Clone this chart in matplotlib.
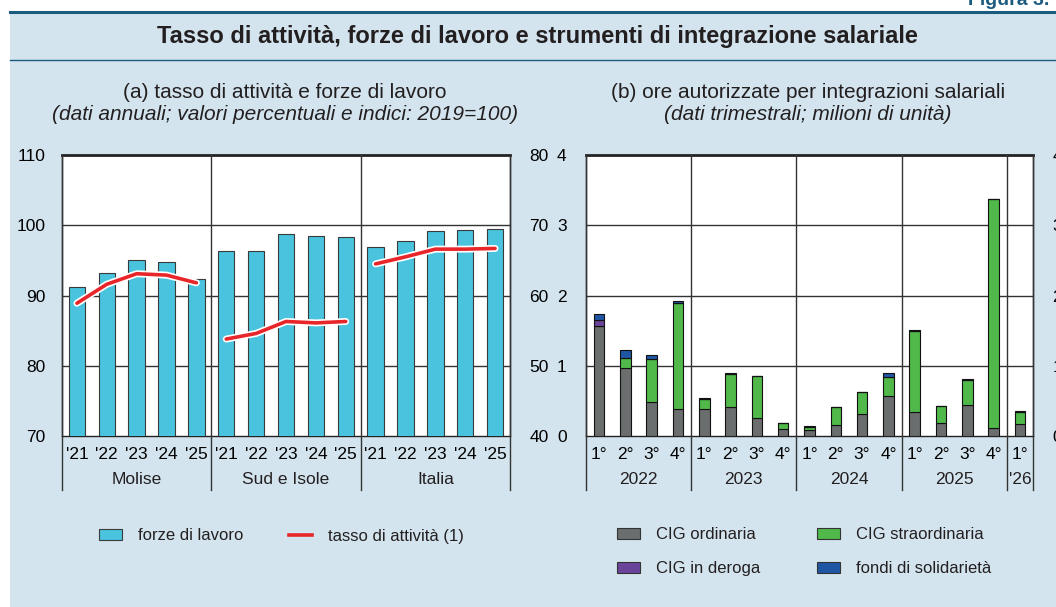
import matplotlib
matplotlib.use("Agg")
import matplotlib.pyplot as plt
import matplotlib.patheffects as pe
from matplotlib.patches import Rectangle, Patch
from matplotlib.lines import Line2D
import numpy as np

plt.rcParams['font.family'] = ['Liberation Sans', 'DejaVu Sans']
plt.rcParams['text.color'] = '#231f20'

# pannello (a): forze di lavoro (indici 2019=100) e tasso di attività (%)
anni = ["'21", "'22", "'23", "'24", "'25"]
aree = ["Molise", "Sud e Isole", "Italia"]
forze_lavoro = {
    "Molise": [91.2, 93.2, 95.0, 94.8, 92.4],
    "Sud e Isole": [96.4, 96.3, 98.7, 98.4, 98.3],
    "Italia": [96.9, 97.8, 99.2, 99.3, 99.4],
}
tasso_attivita = {
    "Molise": [58.9, 61.6, 63.1, 62.9, 61.8],
    "Sud e Isole": [53.8, 54.6, 56.3, 56.1, 56.3],
    "Italia": [64.5, 65.5, 66.6, 66.6, 66.7],
}

# pannello (b): ore autorizzate, milioni
trimestri = ["1°", "2°", "3°", "4°"] * 4 + ["1°"]
anni_b = ["2022", "2023", "2024", "2025", "'26"]
n_trim = [4, 4, 4, 4, 1]
cig_ordinaria = [1.56, 0.97, 0.48, 0.39, 0.39, 0.41, 0.25, 0.095, 0.08, 0.15, 0.31, 0.57, 0.34, 0.19, 0.44, 0.11, 0.17]
cig_straordinaria = [0.0, 0.145, 0.62, 1.50, 0.13, 0.47, 0.61, 0.085, 0.05, 0.26, 0.32, 0.27, 1.155, 0.23, 0.36, 3.26, 0.17]
cig_deroga = [0.09, 0, 0, 0, 0, 0, 0, 0, 0, 0, 0, 0, 0, 0, 0, 0, 0]
fondi_solidarieta = [0.08, 0.105, 0.05, 0.03, 0.02, 0.01, 0, 0, 0.01, 0, 0, 0.05, 0.01, 0.01, 0.01, 0, 0.01]

c_fl = '#49c3de'
c_red = '#e8262a'
c_ord = '#6b6e6e'
c_str = '#50b94a'
c_der = '#6a449b'
c_fon = '#1f56a4'
c_bg = '#d3e4ee'
c_band = '#1b5b7e'

W, H = 1056, 607
fig = plt.figure(figsize=(W / 100, H / 100), dpi=100)
fig.patch.set_facecolor('white')


def fx(px):
    return px / W


def fy(py):
    return 1 - py / H


# sfondo e fascia titolo
fig.patches.append(Rectangle((fx(10), 0), 1, fy(12), transform=fig.transFigure,
                             facecolor=c_bg, edgecolor='none', zorder=-10))
fig.lines.append(Line2D([fx(10), 1], [fy(12), fy(12)], transform=fig.transFigure,
                        color=c_band, lw=2.2, zorder=-5))
fig.lines.append(Line2D([fx(10), 1], [fy(60), fy(60)], transform=fig.transFigure,
                        color=c_band, lw=1.0, zorder=-5))
fig.text(fx(968), fy(5), "Figura 3.", fontsize=14, fontweight='bold', color=c_band,
         ha='left', va='baseline')
fig.text(fx(537), fy(37), "Tasso di attività, forze di lavoro e strumenti di integrazione salariale",
         fontsize=17, fontweight='bold', ha='center', va='center')

fig.text(fx(285), fy(92), "(a) tasso di attività e forze di lavoro", fontsize=15,
         ha='center', va='center')
fig.text(fx(285), fy(115), "(dati annuali; valori percentuali e indici: 2019=100)",
         fontsize=15, style='italic', ha='center', va='center')
fig.text(fx(808), fy(92), "(b) ore autorizzate per integrazioni salariali", fontsize=15,
         ha='center', va='center')
fig.text(fx(808), fy(115), "(dati trimestrali; milioni di unità)",
         fontsize=15, style='italic', ha='center', va='center')


def frame(ax, edges, depth):
    # separatori verticali che scendono sotto l'asse fino alle etichette di gruppo
    for e in edges:
        ax.plot([e, e], [1, -depth], transform=ax.get_xaxis_transform(),
                color='#333333', lw=1.0, clip_on=False, zorder=5)


ax_top, ax_bot = 155, 436
lab_depth = (490 - ax_bot) / (ax_bot - ax_top)
lab_y = -(480 - ax_bot) / (ax_bot - ax_top)

# ---- pannello (a)
axa = fig.add_axes([fx(62), fy(ax_bot), fx(510 - 62), (ax_bot - ax_top) / H])
x = np.arange(15)
vals = sum([forze_lavoro[a] for a in aree], [])
axa.bar(x, vals, width=0.55, color=c_fl, edgecolor='#3a3a3a', linewidth=0.8, zorder=3)
axa.set_xlim(-0.5, 14.5)
axa.set_ylim(70, 110)
axa.set_yticks([70, 80, 90, 100, 110])
for yv in [80, 90, 100]:
    axa.axhline(yv, color='#333333', lw=1.0, zorder=1)
axa.set_xticks(x)
axa.set_xticklabels(anni * 3)
axa.tick_params(length=0, labelsize=12.5, pad=8)
axa.tick_params(axis='y', pad=12)
for s in axa.spines.values():
    s.set_color('#222222')
    s.set_linewidth(1.0)
axa.spines['top'].set_linewidth(2.0)
frame(axa, [-0.5, 4.5, 9.5, 14.5], lab_depth)
for i, a in enumerate(aree):
    axa.text(i * 5 + 2, lab_y, a, transform=axa.get_xaxis_transform(),
             ha='center', va='center', fontsize=12.5)

axa2 = axa.twinx()
axa2.set_ylim(40, 80)
axa2.set_yticks([40, 50, 60, 70, 80])
axa2.tick_params(length=0, labelsize=12.5, pad=14)
for s in axa2.spines.values():
    s.set_visible(False)
for i, a in enumerate(aree):
    axa2.plot(x[i * 5:(i + 1) * 5], tasso_attivita[a], color=c_red, lw=2.6,
              solid_capstyle='round',
              path_effects=[pe.Stroke(linewidth=5.0, foreground='white'), pe.Normal()])

# ---- pannello (b)
axb = fig.add_axes([fx(586), fy(ax_bot), fx(1033 - 586), (ax_bot - ax_top) / H])
xb = np.arange(len(trimestri))
b0 = np.array(cig_ordinaria)
b1 = b0 + np.array(cig_straordinaria)
b2 = b1 + np.array(cig_deroga)
kw = dict(width=0.4, edgecolor='#111111', linewidth=0.8, zorder=3)
axb.bar(xb, cig_ordinaria, color=c_ord, **kw)
axb.bar(xb, cig_straordinaria, bottom=b0, color=c_str, **kw)
axb.bar(xb, cig_deroga, bottom=b1, color=c_der, **kw)
axb.bar(xb, fondi_solidarieta, bottom=b2, color=c_fon, **kw)
axb.set_xlim(-0.5, 16.5)
axb.set_ylim(0, 4)
axb.set_yticks([0, 1, 2, 3, 4])
for yv in [1, 2, 3]:
    axb.axhline(yv, color='#333333', lw=1.0, zorder=1)
axb.set_xticks(xb)
axb.set_xticklabels(trimestri)
axb.tick_params(length=0, labelsize=12.5, pad=8)
axb.tick_params(axis='y', pad=14)
for s in axb.spines.values():
    s.set_color('#222222')
    s.set_linewidth(1.0)
axb.spines['top'].set_linewidth(2.0)
edges = np.concatenate([[0], np.cumsum(n_trim)]) - 0.5
frame(axb, edges, lab_depth)
for i, a in enumerate(anni_b):
    axb.text((edges[i] + edges[i + 1]) / 2, lab_y, a,
             transform=axb.get_xaxis_transform(), ha='center', va='center', fontsize=12.5)
axb2 = axb.twinx()
axb2.set_ylim(0, 4)
axb2.set_yticks([0, 1, 2, 3, 4])
axb2.tick_params(length=0, labelsize=12.5, pad=14)
for s in axb2.spines.values():
    s.set_visible(False)

# ---- legende
leg_kw = dict(fontsize=12, frameon=False, handlelength=1.4, handleheight=0.65,
              handletextpad=0.95, borderaxespad=0, borderpad=0)
h_a = [Patch(facecolor=c_fl, edgecolor='#3a3a3a', lw=0.8),
       Line2D([0], [0], color=c_red, lw=2.6)]
fig.legend(h_a, ["forze di lavoro", "tasso di attività (1)"], ncol=2, columnspacing=2.7,
           loc='center left', bbox_to_anchor=(fx(99), fy(536)), **leg_kw)
h_b = [Patch(facecolor=c_ord, edgecolor='#333333', lw=0.8),
       Patch(facecolor=c_der, edgecolor='#333333', lw=0.8),
       Patch(facecolor=c_str, edgecolor='#333333', lw=0.8),
       Patch(facecolor=c_fon, edgecolor='#333333', lw=0.8)]
fig.legend(h_b, ["CIG ordinaria", "CIG in deroga", "CIG straordinaria", "fondi di solidarietà"],
           ncol=2, columnspacing=3.4, labelspacing=1.15,
           loc='upper left', bbox_to_anchor=(fx(617), fy(527)), **leg_kw)

fig.savefig("out.png", dpi=100, facecolor=fig.get_facecolor())
